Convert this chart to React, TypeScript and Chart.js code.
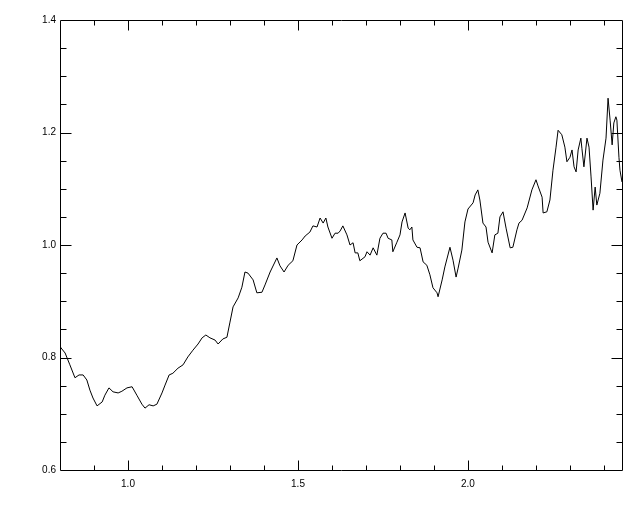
import React, { useEffect, useRef } from "react";
import { Chart, registerables } from "chart.js";

Chart.register(...registerables);

const xValues = [
  0.800, 0.803, 0.815, 0.829, 0.844, 0.856, 0.868, 0.879, 0.888, 0.897,
  0.909, 0.924, 0.932, 0.944, 0.956, 0.971, 0.982, 0.997, 1.012, 1.026,
  1.041, 1.050, 1.062, 1.074, 1.085, 1.100, 1.109, 1.121, 1.132, 1.147,
  1.162, 1.176, 1.191, 1.206, 1.218, 1.229, 1.241, 1.256, 1.265, 1.279,
  1.291, 1.300, 1.309, 1.324, 1.335, 1.344, 1.353, 1.368, 1.379, 1.394,
  1.403, 1.418, 1.438, 1.447, 1.459, 1.471, 1.485, 1.497, 1.512, 1.521,
  1.535, 1.544, 1.556, 1.565, 1.574, 1.582, 1.588, 1.600, 1.609, 1.618,
  1.624, 1.632, 1.644, 1.653, 1.662, 1.668, 1.676, 1.682, 1.697, 1.703,
  1.712, 1.721, 1.732, 1.741, 1.750, 1.759, 1.765, 1.776, 1.779, 1.791,
  1.800, 1.806, 1.815, 1.824, 1.829, 1.835, 1.838, 1.850, 1.859, 1.868,
  1.879, 1.888, 1.897, 1.909, 1.912, 1.924, 1.932, 1.947, 1.956, 1.965,
  1.971, 1.982, 1.991, 2.000, 2.015, 2.021, 2.029, 2.035, 2.044, 2.053,
  2.059, 2.071, 2.079, 2.088, 2.094, 2.103, 2.112, 2.124, 2.132, 2.144,
  2.150, 2.159, 2.174, 2.188, 2.200, 2.206, 2.218, 2.221, 2.232, 2.241,
  2.250, 2.259, 2.265, 2.276, 2.285, 2.291, 2.300, 2.306, 2.312, 2.318,
  2.324, 2.332, 2.335, 2.341, 2.350, 2.356, 2.362, 2.368, 2.374, 2.379,
  2.388, 2.397, 2.406, 2.412, 2.418, 2.424, 2.429, 2.435, 2.438, 2.444,
  2.447, 2.453,
];

const yValues = [
  0.820, 0.817, 0.808, 0.787, 0.764, 0.769, 0.769, 0.760, 0.742, 0.728,
  0.714, 0.721, 0.733, 0.746, 0.739, 0.737, 0.740, 0.746, 0.748, 0.733,
  0.717, 0.710, 0.716, 0.714, 0.717, 0.737, 0.751, 0.769, 0.772, 0.781,
  0.787, 0.801, 0.813, 0.824, 0.835, 0.840, 0.835, 0.831, 0.824, 0.833,
  0.836, 0.863, 0.890, 0.906, 0.925, 0.952, 0.950, 0.938, 0.915, 0.916,
  0.929, 0.952, 0.977, 0.963, 0.952, 0.964, 0.972, 1.000, 1.009, 1.016,
  1.023, 1.034, 1.032, 1.048, 1.039, 1.048, 1.032, 1.012, 1.021, 1.021,
  1.025, 1.034, 1.018, 1.000, 1.004, 0.986, 0.986, 0.972, 0.979, 0.988,
  0.982, 0.995, 0.982, 1.012, 1.021, 1.021, 1.012, 1.009, 0.988, 1.005,
  1.018, 1.041, 1.057, 1.030, 1.027, 1.032, 1.009, 0.996, 0.995, 0.970,
  0.964, 0.947, 0.924, 0.915, 0.908, 0.938, 0.961, 0.996, 0.973, 0.943,
  0.959, 0.991, 1.041, 1.064, 1.075, 1.089, 1.098, 1.080, 1.039, 1.032,
  1.005, 0.986, 1.018, 1.021, 1.050, 1.059, 1.030, 0.995, 0.996, 1.027,
  1.039, 1.044, 1.066, 1.098, 1.116, 1.105, 1.085, 1.057, 1.059, 1.080,
  1.133, 1.174, 1.204, 1.196, 1.174, 1.148, 1.156, 1.169, 1.139, 1.130,
  1.169, 1.190, 1.172, 1.139, 1.190, 1.174, 1.121, 1.062, 1.103, 1.071,
  1.092, 1.151, 1.190, 1.261, 1.222, 1.178, 1.217, 1.228, 1.222, 1.156,
  1.133, 1.112,
];

const xMin = 0.8;
const xMax = 2.453;
const xMinorStep = 0.1;
const xMajorStep = 0.5;
const yMin = 0.6;
const yMax = 1.4;
const yMinorStep = 0.05;
const yMajorStep = 0.2;

const isMultiple = (v: number, step: number) =>
  Math.abs(v / step - Math.round(v / step)) < 1e-6;

const boxTicksPlugin = {
  id: "boxTicks",
  afterDraw(chart: any) {
    const { ctx, chartArea, scales } = chart;
    const { left, right, top, bottom } = chartArea;
    const L = Math.round(left) + 0.5;
    const R = Math.round(right) + 0.5;
    const T = Math.round(top) + 0.5;
    const B = Math.round(bottom) + 0.5;
    ctx.save();
    ctx.strokeStyle = "#000";
    ctx.lineWidth = 1;
    ctx.beginPath();
    ctx.rect(L, T, R - L, B - T);
    ctx.stroke();
    ctx.beginPath();
    for (const t of scales.x.ticks) {
      const p = Math.round(scales.x.getPixelForValue(t.value)) + 0.5;
      if (p <= L + 1 || p >= R - 1) continue;
      const len = isMultiple(t.value, xMajorStep) ? 10 : 5;
      ctx.moveTo(p, B);
      ctx.lineTo(p, B - len);
      ctx.moveTo(p, T);
      ctx.lineTo(p, T + len);
    }
    for (const t of scales.y.ticks) {
      const p = Math.round(scales.y.getPixelForValue(t.value)) + 0.5;
      if (p <= T + 1 || p >= B - 1) continue;
      const len = isMultiple(t.value, yMajorStep) ? 11 : 6;
      ctx.moveTo(L, p);
      ctx.lineTo(L + len, p);
      ctx.moveTo(R, p);
      ctx.lineTo(R - len, p);
    }
    ctx.stroke();
    ctx.restore();
  },
};

export default function App() {
  const canvasRef = useRef<HTMLCanvasElement | null>(null);

  useEffect(() => {
    if (!canvasRef.current) return;
    const points = xValues.map((x, i) => ({ x, y: yValues[i] }));
    const font = { family: "'Liberation Sans', Arial, sans-serif", size: 10 };
    const chart = new Chart(canvasRef.current, {
      type: "line",
      data: {
        datasets: [
          {
            data: points,
            borderColor: "#000",
            borderWidth: 1,
            pointRadius: 0,
            tension: 0,
            fill: false,
          },
        ],
      },
      options: {
        animation: false,
        responsive: false,
        devicePixelRatio: 1,
        layout: { padding: { left: 0, top: 20, right: 18, bottom: 0 } },
        plugins: {
          legend: { display: false },
          tooltip: { enabled: false },
        },
        scales: {
          x: {
            type: "linear",
            min: xMin,
            max: xMax,
            grid: { display: false, drawTicks: false },
            border: { display: false },
            afterFit: (scale: any) => {
              scale.height = 42;
            },
            ticks: {
              stepSize: xMinorStep,
              includeBounds: false,
              autoSkip: false,
              maxRotation: 0,
              padding: 8,
              color: "#000",
              font,
              callback: (v: any) =>
                isMultiple(Number(v), xMajorStep) ? Number(v).toFixed(1) : "",
            },
          },
          y: {
            type: "linear",
            min: yMin,
            max: yMax,
            grid: { display: false, drawTicks: false },
            border: { display: false },
            afterFit: (scale: any) => {
              scale.width = 60;
            },
            ticks: {
              stepSize: yMinorStep,
              includeBounds: false,
              autoSkip: false,
              padding: 4,
              color: "#000",
              font,
              callback: (v: any) =>
                isMultiple(Number(v), yMajorStep) ? Number(v).toFixed(1) : "",
            },
          },
        },
      },
      plugins: [boxTicksPlugin],
    } as any);
    return () => chart.destroy();
  }, []);

  return (
    <div
      style={{
        position: "fixed",
        left: 0,
        top: 0,
        width: 640,
        height: 512,
        background: "#fff",
      }}
    >
      <canvas
        ref={canvasRef}
        width={640}
        height={512}
        style={{ display: "block", width: 640, height: 512 }}
      />
    </div>
  );
}
